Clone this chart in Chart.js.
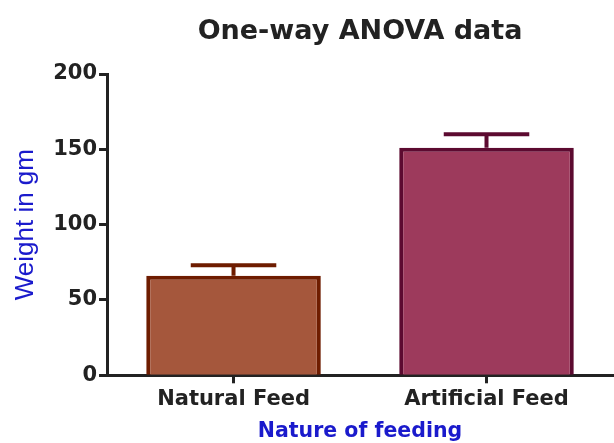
<!DOCTYPE html>
<html>
<head>
<meta charset="utf-8">
<script src="https://cdn.jsdelivr.net/npm/chart.js@4"></script>
<style>
  html, body { margin: 0; padding: 0; background: #fff; }
  #wrap { width: 614px; height: 443px; }
</style>
</head>
<body>
<div id="wrap"><canvas id="bars"></canvas></div>
<script>
const categories = ['Natural Feed', 'Artificial Feed'];
const means = [66, 151];
const errors = [7, 9];
const yTicks = [0, 50, 100, 150, 200];
const chartTitle = 'One-way ANOVA data';

// draws the upper error bar (SD) on top of each bar
const errorBars = {
  id: 'errorBars',
  afterDatasetsDraw(chart) {
    const c = chart.ctx;
    const meta = chart.getDatasetMeta(0);
    const y = chart.scales.y;
    meta.data.forEach((bar, i) => {
      const top = y.getPixelForValue(means[i] + errors[i]);
      const base = y.getPixelForValue(means[i]);
      const half = bar.width * 0.245;
      c.save();
      c.strokeStyle = chart.data.datasets[0].borderColor[i];
      c.lineWidth = 4;
      c.beginPath();
      c.moveTo(bar.x, base);
      c.lineTo(bar.x, top);
      c.moveTo(bar.x - half, top);
      c.lineTo(bar.x + half, top);
      c.stroke();
      c.restore();
    });
  }
};

// title centred over the plot area, not the whole canvas
const plotTitle = {
  id: 'plotTitle',
  afterDraw(chart) {
    const c = chart.ctx;
    const a = chart.chartArea;
    c.save();
    c.font = 'bold 27px "DejaVu Sans"';
    c.fillStyle = '#222';
    c.textAlign = 'center';
    c.textBaseline = 'middle';
    c.fillText(chartTitle, (a.left + a.right) / 2, 32);
    c.restore();
  }
};

const tickFont = { family: 'DejaVu Sans', size: 21, weight: 'bold' };

const ctx = document.getElementById('bars').getContext('2d');
const chart = new Chart(ctx, {
  type: 'bar',
  data: {
    labels: categories,
    datasets: [{
      data: means,
      backgroundColor: ['#a5573c', '#9d3a5c'],
      borderColor: ['#6e1c00', '#5c0a30'],
      borderWidth: 4,
      borderSkipped: 'bottom',
      barPercentage: 0.69,
      categoryPercentage: 1
    }]
  },
  options: {
    responsive: true,
    maintainAspectRatio: false,
    animation: false,
    layout: { padding: { top: 74, right: 1, bottom: 1, left: 10 } },
    plugins: {
      legend: { display: false },
      tooltip: { enabled: false },
      title: { display: false }
    },
    scales: {
      x: {
        grid: { drawOnChartArea: false, offset: false, tickLength: 8, tickWidth: 3, tickColor: '#222' },
        border: { color: '#222', width: 3 },
        ticks: { color: '#222', font: tickFont, padding: 4 },
        title: {
          display: true,
          text: 'Nature of feeding',
          color: '#1a1acc',
          font: { family: 'DejaVu Sans', size: 20.5, weight: 'bold', lineHeight: 1 },
          padding: { top: 5, bottom: 0 }
        }
      },
      y: {
        min: 0,
        max: 200,
        afterBuildTicks(axis) { axis.ticks = yTicks.map(v => ({ value: v })); },
        grid: { drawOnChartArea: false, tickLength: 8, tickWidth: 3, tickColor: '#222' },
        border: { color: '#222', width: 3 },
        ticks: { color: '#222', font: tickFont, padding: 2 },
        title: {
          display: true,
          text: 'Weight in gm',
          color: '#1a1acc',
          font: { family: 'Liberation Sans', size: 26 },
          padding: { top: 0, bottom: 10 }
        }
      }
    }
  },
  plugins: [errorBars, plotTitle]
});
</script>
</body>
</html>
